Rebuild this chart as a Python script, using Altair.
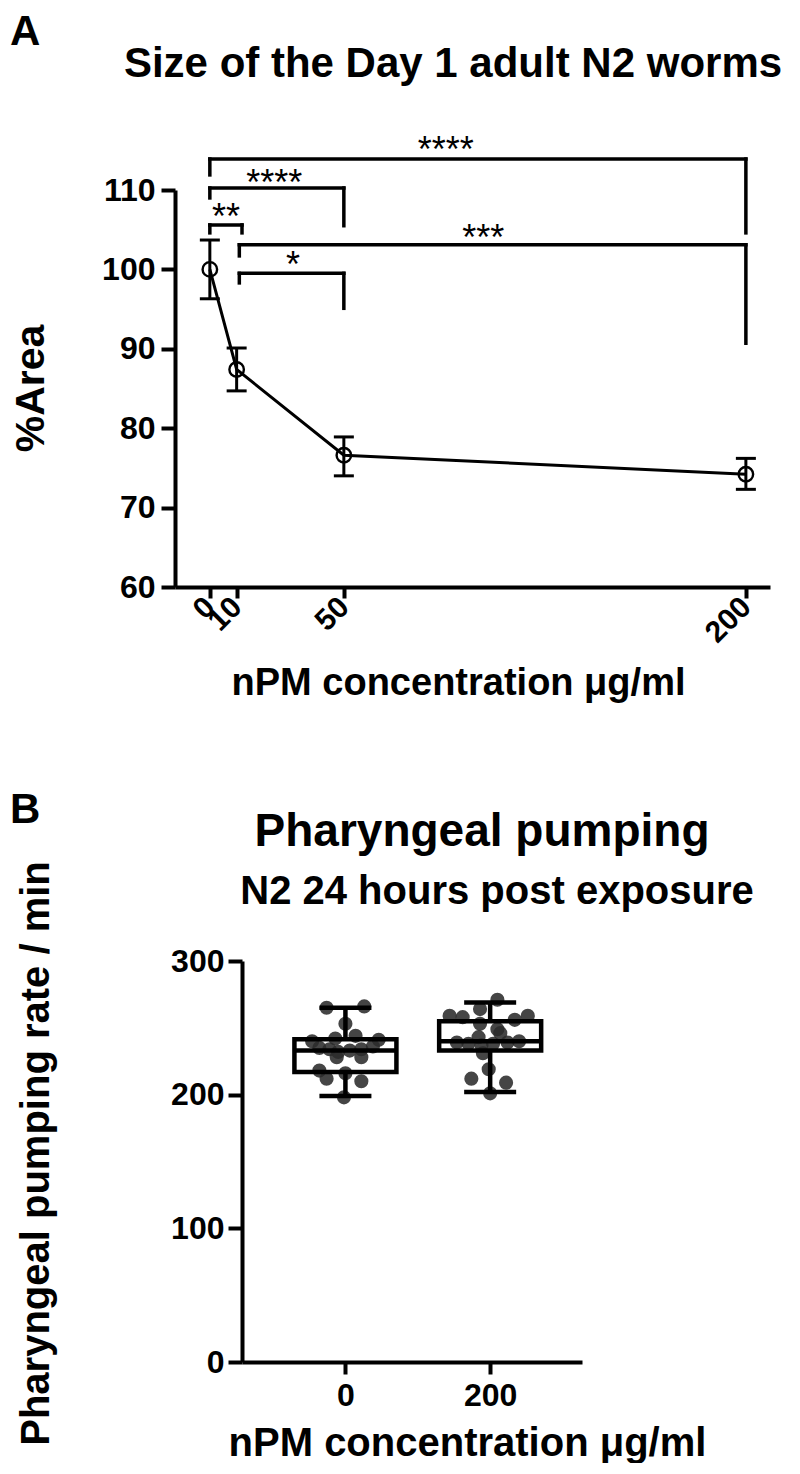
import altair as alt
import pandas as pd

FONT = "Liberation Sans"

# ---------------- Panel A data ----------------
conc = [0, 10, 50, 200]
area_mean = [100.0, 87.4, 76.6, 74.2]
area_lo = [96.3, 84.7, 74.0, 72.3]
area_hi = [103.7, 90.1, 78.9, 76.2]

br_x1 = [0, 0, 0, 11, 11]
br_x2 = [200, 50, 12, 200, 50]
br_top = [113.9, 110.25, 105.6, 103.1, 99.5]
br_left_end = [111.9, 109.0, 104.6, 101.7, 98.3]
br_right_end = [104.6, 105.5, 104.6, 90.7, 95.1]
br_label = ["****", "****", "**", "***", "*"]
br_label_x = [88, 24, 6, 102, 31]
br_label_y = [116.0, 111.9, 107.6, 105.0, 101.6]

a_ticks_y = [60, 70, 80, 90, 100, 110]

# ---------------- Panel B data ----------------
groups = ["0", "200"]
group_pos = [0, 1]
box_min = [199, 202]
box_q1 = [217, 233]
box_med = [233, 240]
box_q3 = [241.5, 255]
box_max = [265, 269]

pts_0 = [265, 266, 253, 242, 244, 240, 241, 235, 234, 232, 233, 234, 236, 228, 228, 218, 212, 216, 210, 198]
jit_0 = [-0.13, 0.13, 0, -0.07, 0.07, -0.23, 0.23, -0.18, -0.11, -0.05, 0.03, 0.11, 0.19, -0.06, 0.11, -0.18, -0.13, 0, 0.11, -0.01]
pts_200 = [271, 264, 259, 258, 259, 256, 253, 249, 246, 243, 239, 238, 237, 238, 239, 240, 231, 219, 212, 209, 201]
jit_200 = [0.05, -0.07, -0.28, -0.19, 0.26, 0.17, -0.07, 0.05, 0.07, -0.08, -0.23, -0.15, -0.06, 0.02, 0.12, 0.20, -0.05, -0.01, -0.13, 0.11, 0]

b_ticks_y = [0, 100, 200, 300]

# ---------------- tables ----------------
dfA = pd.DataFrame({"conc": conc, "mean": area_mean, "lo": area_lo, "hi": area_hi})
dfBr = pd.DataFrame({"x1": br_x1, "x2": br_x2, "top": br_top, "lend": br_left_end,
                     "rend": br_right_end})
dfBrT = pd.DataFrame({"lx": br_label_x, "ly": br_label_y, "lab": br_label})

dfBox = pd.DataFrame({"g": groups, "pos": group_pos, "mn": box_min, "q1": box_q1,
                      "med": box_med, "q3": box_q3, "mx": box_max})
dfPts = pd.DataFrame({
    "val": pts_0 + pts_200,
    "xpos": [group_pos[0] + j for j in jit_0] + [group_pos[1] + j for j in jit_200],
})

# ---------------- Panel A ----------------
W_A, H_A = 595, 397
xscA = alt.Scale(domain=[-13, 209], nice=False, zero=False)
yscA = alt.Scale(domain=[60, 110], nice=False, zero=False)
xaxA = alt.Axis(values=conc, title="nPM concentration μg/ml", labelAngle=-45,
                labelAlign="right", labelBaseline="middle", labelFontSize=30,
                labelPadding=4, tickSize=11, titleFontSize=38, titleX=283, titleY=107,
                titleBaseline="alphabetic", titleAlign="center")
yaxA = alt.Axis(values=a_ticks_y, title="%Area", labelFontSize=32, tickSize=14,
                labelPadding=6, titleFontSize=41, titleX=-144, titleY=198,
                titleBaseline="middle", titleAlign="center", titleAngle=-90)


def xA(f):
    return alt.X(f, type="quantitative", scale=xscA, axis=xaxA)


def yA(f):
    return alt.Y(f, type="quantitative", scale=yscA, axis=yaxA)


lineA = alt.Chart(dfA).mark_line(color="black", strokeWidth=3).encode(x=xA("conc"), y=yA("mean"))
errA = alt.Chart(dfA).mark_rule(color="black", strokeWidth=3, opacity=1).encode(
    x=xA("conc"), y=yA("lo"), y2=alt.Y2("hi"))
capAlo = alt.Chart(dfA).mark_tick(orient="horizontal", size=20, thickness=3, color="black",
                                  opacity=1).encode(x=xA("conc"), y=yA("lo"))
capAhi = alt.Chart(dfA).mark_tick(orient="horizontal", size=20, thickness=3, color="black",
                                  opacity=1).encode(x=xA("conc"), y=yA("hi"))
ptsA = alt.Chart(dfA).mark_point(shape="circle", filled=False, size=210, strokeWidth=2.4,
                                 color="black", opacity=1).encode(x=xA("conc"), y=yA("mean"))

brH = alt.Chart(dfBr).mark_rule(color="black", strokeWidth=3.5, strokeCap="square").encode(
    x=xA("x1"), x2=alt.X2("x2"), y=yA("top"))
brL = alt.Chart(dfBr).mark_rule(color="black", strokeWidth=3.5, strokeCap="square").encode(
    x=xA("x1"), y=yA("top"), y2=alt.Y2("lend"))
brR = alt.Chart(dfBr).mark_rule(color="black", strokeWidth=3.5, strokeCap="square").encode(
    x=xA("x2"), y=yA("top"), y2=alt.Y2("rend"))
brT = alt.Chart(dfBrT).mark_text(font=FONT, fontSize=36, dy=20, baseline="alphabetic",
                                 align="center", color="black").encode(
    x=xA("lx"), y=yA("ly"), text="lab:N")

titleA = alt.Chart(pd.DataFrame({"t": ["Size of the Day 1 adult N2 worms"]})).mark_text(
    font=FONT, fontSize=42, fontWeight="bold", align="center", baseline="alphabetic",
    color="black").encode(x=alt.value(278), y=alt.value(-113), text="t:N")
letterA = alt.Chart(pd.DataFrame({"t": ["A"]})).mark_text(
    font=FONT, fontSize=42, fontWeight="bold", align="left", baseline="alphabetic",
    color="black").encode(x=alt.value(-165), y=alt.value(-145), text="t:N")

panelA = alt.layer(brH, brL, brR, brT, lineA, errA, capAlo, capAhi, ptsA, titleA,
                   letterA).properties(width=W_A, height=H_A)

# ---------------- Panel B ----------------
# plot origin aligned with panel A; the y axis is moved 67 px to the right
SHIFT_B = 67
W_B, H_B = 407, 401
xscB = alt.Scale(domain=[-0.68, 1.60], nice=False, zero=False, range=[SHIFT_B, W_B])
yscB = alt.Scale(domain=[0, 300], nice=False, zero=False)
label_expr = "[" + ",".join("'" + g + "'" for g in groups) + "][datum.value]"
xaxB = alt.Axis(values=group_pos, labelExpr=label_expr, title="nPM concentration μg/ml",
                labelFontSize=32, labelAngle=0, labelAlign="center", labelBaseline="top",
                tickSize=12, labelPadding=6, titleFontSize=40, titleX=292, titleY=93,
                titleBaseline="alphabetic", titleAlign="center")
yaxB = alt.Axis(values=b_ticks_y, title="Pharyngeal pumping rate / min", labelFontSize=32,
                tickSize=14, labelPadding=4, titleFontSize=40, titleX=-206, titleY=192,
                titleBaseline="middle", titleAlign="center", titleAngle=-90,
                offset=-SHIFT_B)


def xB(f):
    return alt.X(f, type="quantitative", scale=xscB, axis=xaxB)


def yB(f):
    return alt.Y(f, type="quantitative", scale=yscB, axis=yaxB)


dotsB = alt.Chart(dfPts).mark_circle(size=200, color="#2b2b2b", opacity=0.88).encode(
    x=xB("xpos"), y=yB("val"))
boxB = alt.Chart(dfBox).mark_bar(width=102, fillOpacity=0, stroke="black", strokeWidth=4.5).encode(
    x=xB("pos"), y=yB("q1"), y2=alt.Y2("q3"))
medB = alt.Chart(dfBox).mark_tick(orient="horizontal", size=102, thickness=4.5, color="black",
                                  opacity=1).encode(x=xB("pos"), y=yB("med"))
whLo = alt.Chart(dfBox).mark_rule(color="black", strokeWidth=4.5).encode(
    x=xB("pos"), y=yB("mn"), y2=alt.Y2("q1"))
whHi = alt.Chart(dfBox).mark_rule(color="black", strokeWidth=4.5).encode(
    x=xB("pos"), y=yB("q3"), y2=alt.Y2("mx"))
capLo = alt.Chart(dfBox).mark_tick(orient="horizontal", size=52, thickness=4.5, color="black",
                                   opacity=1).encode(x=xB("pos"), y=yB("mn"))
capHi = alt.Chart(dfBox).mark_tick(orient="horizontal", size=52, thickness=4.5, color="black",
                                   opacity=1).encode(x=xB("pos"), y=yB("mx"))

titleB = alt.Chart(pd.DataFrame({"t": ["Pharyngeal pumping"]})).mark_text(
    font=FONT, fontSize=46, fontWeight="bold", align="center", baseline="alphabetic",
    color="black").encode(x=alt.value(307), y=alt.value(-115), text="t:N")
subB = alt.Chart(pd.DataFrame({"t": ["N2 24 hours post exposure"]})).mark_text(
    font=FONT, fontSize=40, fontWeight="bold", align="center", baseline="alphabetic",
    color="black").encode(x=alt.value(322), y=alt.value(-57), text="t:N")
letterB = alt.Chart(pd.DataFrame({"t": ["B"]})).mark_text(
    font=FONT, fontSize=42, fontWeight="bold", align="left", baseline="alphabetic",
    color="black").encode(x=alt.value(-165), y=alt.value(-138), text="t:N")

panelB = alt.layer(dotsB, boxB, medB, whLo, whHi, capLo, capHi, titleB, subB, letterB).properties(
    width=W_B, height=H_B)

chart = alt.vconcat(panelA, panelB, spacing=87).properties(
    padding={"left": 2, "top": 3, "right": 0, "bottom": 0}
).configure_view(stroke=None).configure_axis(
    grid=False, domainColor="black", domainWidth=4, tickColor="black", tickWidth=4,
    labelColor="black", titleColor="black", labelFont=FONT, titleFont=FONT,
    labelFontWeight="bold", titleFontWeight="bold", labelOverlap=False,
    labelFlush=False
)

chart.save("out.html", embed_options={"renderer": "svg", "actions": False})
